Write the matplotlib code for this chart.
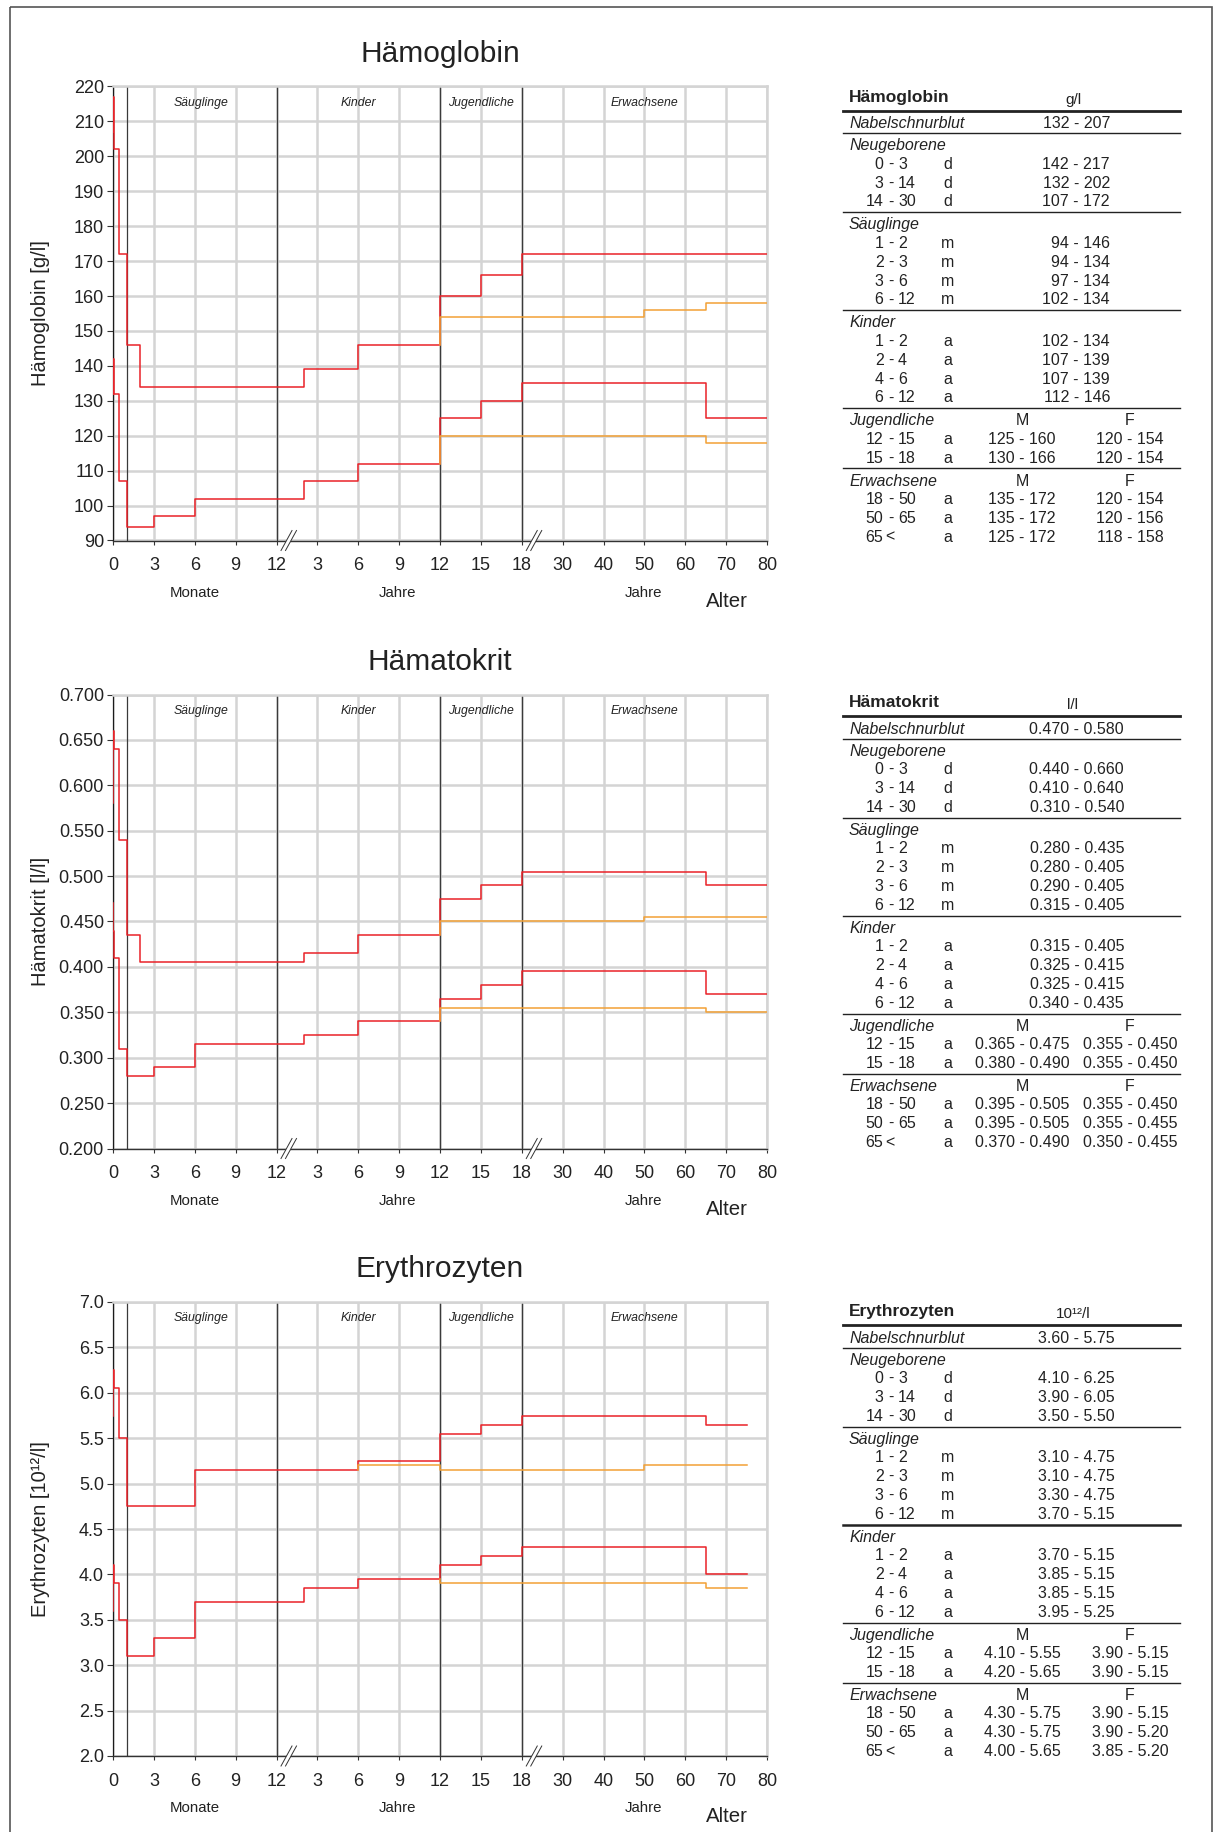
import matplotlib
matplotlib.use("Agg")
import matplotlib.pyplot as plt
from matplotlib.patches import Polygon, Rectangle

plt.rcParams["font.family"] = ["Liberation Sans", "DejaVu Sans"]

# Altersgrenzen der Gruppen
NEO_DAYS = [0, 3, 14, 30]
INF_MONTHS = [1, 2, 3, 6, 12]
KID_YEARS = [1, 2, 4, 6, 12]
TEEN_YEARS = [12, 15, 18]
ADULT_YEARS = [18, 50, 65]

X_TICK_AGES = [0, 3 / 12, 6 / 12, 9 / 12, 1, 3, 6, 9, 12, 15, 18, 30, 40, 50, 60, 70, 80]
X_TICK_LABELS = ["0", "3", "6", "9", "12", "3", "6", "9", "12", "15", "18",
                 "30", "40", "50", "60", "70", "80"]
GROUP_NAMES = ["Säuglinge", "Kinder", "Jugendliche", "Erwachsene"]
GROUP_BOUNDS = [1 / 12, 1, 12, 18]

# Hämoglobin [g/l], (untere, obere Grenze)
HB_CORD = (132, 207)
HB_NEO = [(142, 217), (132, 202), (107, 172)]
HB_INF = [(94, 146), (94, 134), (97, 134), (102, 134)]
HB_KID = [(102, 134), (107, 139), (107, 139), (112, 146)]
HB_TEEN_M = [(125, 160), (130, 166)]
HB_TEEN_F = [(120, 154), (120, 154)]
HB_ADULT_M = [(135, 172), (135, 172), (125, 172)]
HB_ADULT_F = [(120, 154), (120, 156), (118, 158)]

# Hämatokrit [l/l]
HK_CORD = (0.470, 0.580)
HK_NEO = [(0.440, 0.660), (0.410, 0.640), (0.310, 0.540)]
HK_INF = [(0.280, 0.435), (0.280, 0.405), (0.290, 0.405), (0.315, 0.405)]
HK_KID = [(0.315, 0.405), (0.325, 0.415), (0.325, 0.415), (0.340, 0.435)]
HK_TEEN_M = [(0.365, 0.475), (0.380, 0.490)]
HK_TEEN_F = [(0.355, 0.450), (0.355, 0.450)]
HK_ADULT_M = [(0.395, 0.505), (0.395, 0.505), (0.370, 0.490)]
HK_ADULT_F = [(0.355, 0.450), (0.355, 0.455), (0.350, 0.455)]

# Erythrozyten [10^12/l]
ER_CORD = (3.60, 5.75)
ER_NEO = [(4.10, 6.25), (3.90, 6.05), (3.50, 5.50)]
ER_INF = [(3.10, 4.75), (3.10, 4.75), (3.30, 4.75), (3.70, 5.15)]
ER_KID = [(3.70, 5.15), (3.85, 5.15), (3.85, 5.15), (3.95, 5.25)]
ER_TEEN_M = [(4.10, 5.55), (4.20, 5.65)]
ER_TEEN_F = [(3.90, 5.15), (3.90, 5.15)]
ER_ADULT_M = [(4.30, 5.75), (4.30, 5.75), (4.00, 5.65)]
ER_ADULT_F = [(3.90, 5.15), (3.90, 5.20), (3.85, 5.20)]
ER_GIRLS_6_12_HI = 5.20

PANELS = [
    dict(title="Hämoglobin", ylabel="Hämoglobin [g/l]", unit="g/l",
         cord=HB_CORD, neo=HB_NEO, inf=HB_INF, kid=HB_KID,
         teen_m=HB_TEEN_M, teen_f=HB_TEEN_F, adult_m=HB_ADULT_M, adult_f=HB_ADULT_F,
         girl_hi=None, end=80, ylim=(90, 220), ystep=10, yfmt="{:.0f}",
         vfmt="{:.0f} - {:.0f}", top=86.5, tab=110.7, vx=1110),
    dict(title="Hämatokrit", ylabel="Hämatokrit [l/l]", unit="l/l",
         cord=HK_CORD, neo=HK_NEO, inf=HK_INF, kid=HK_KID,
         teen_m=HK_TEEN_M, teen_f=HK_TEEN_F, adult_m=HK_ADULT_M, adult_f=HK_ADULT_F,
         girl_hi=None, end=80, ylim=(0.2, 0.7), ystep=0.05, yfmt="{:.3f}",
         vfmt="{:.3f} - {:.3f}", top=694.5, tab=716, vx=1124),
    dict(title="Erythrozyten", ylabel="Erythrozyten [10¹²/l]", unit="10¹²/l",
         cord=ER_CORD, neo=ER_NEO, inf=ER_INF, kid=ER_KID,
         teen_m=ER_TEEN_M, teen_f=ER_TEEN_F, adult_m=ER_ADULT_M, adult_f=ER_ADULT_F,
         girl_hi=ER_GIRLS_6_12_HI, end=75, ylim=(2.0, 7.0), ystep=0.5, yfmt="{:.1f}",
         vfmt="{:.2f} - {:.2f}", top=1302, tab=1325, vx=1115),
]

W, H = 1220, 1832
AX_L, AX_W, AX_H = 113, 654, 454
RED = "#ea2228"
ORANGE = "#f2a136"
GRID = "#d4d4d4"
INK = "#222222"


def age_pos(a):
    # gebrochene Altersachse: Monate | Jahre 1-18 | Jahre ab 18
    if a <= 1:
        return 4 * a
    if a <= 12:
        return 4 + a / 3
    if a <= 18:
        return 8 + (a - 12) / 3
    if a <= 30:
        return 10 + (a - 18) / 12
    return 11 + (a - 30) / 10


def common_edges(end):
    e = [d / 360 for d in NEO_DAYS]
    e += [m / 12 for m in INF_MONTHS[1:]]
    e += KID_YEARS[1:] + TEEN_YEARS[1:] + ADULT_YEARS[1:] + [end]
    return [age_pos(a) for a in e]


def draw_break(ax, x):
    ux, uy = 1 / 40.875, 1 / AX_H
    sep, run, rise = 4.5, 11.0, 20.0
    a0 = (x + (-sep / 2 - run / 2) * ux, -rise / 2 * uy)
    a1 = (x + (-sep / 2 + run / 2) * ux, rise / 2 * uy)
    b0 = (x + (sep / 2 - run / 2) * ux, -rise / 2 * uy)
    b1 = (x + (sep / 2 + run / 2) * ux, rise / 2 * uy)
    tr = ax.get_xaxis_transform()
    ax.add_patch(Polygon([a0, a1, b1, b0], closed=True, facecolor="white",
                         edgecolor="none", transform=tr, clip_on=False, zorder=5))
    for p, q in ((a0, a1), (b0, b1)):
        ax.plot([p[0], q[0]], [p[1], q[1]], color="#333333", lw=0.7,
                transform=tr, clip_on=False, zorder=6)


fig = plt.figure(figsize=(W / 100, H / 100), dpi=100)

for p in PANELS:
    top = p["top"]
    ax = fig.add_axes([AX_L / W, 1 - (top + AX_H) / H, AX_W / W, AX_H / H])
    ymin, ymax = p["ylim"]
    ax.set_xlim(0, 16)
    ax.set_ylim(ymin, ymax)

    xt = [age_pos(a) for a in X_TICK_AGES]
    ax.set_xticks(xt)
    ax.set_xticklabels(X_TICK_LABELS)
    n = int(round((ymax - ymin) / p["ystep"]))
    yt = [ymin + i * p["ystep"] for i in range(n + 1)]
    ax.set_yticks(yt)
    ax.set_yticklabels([p["yfmt"].format(v) for v in yt])

    ax.grid(True, color=GRID, lw=1.8)
    ax.set_axisbelow(True)
    for s in ("top", "right"):
        ax.spines[s].set_color(GRID)
        ax.spines[s].set_linewidth(1.8)
    ax.spines["left"].set_color("#1a1a1a")
    ax.spines["left"].set_linewidth(0.9)
    ax.spines["bottom"].set_color("#333333")
    ax.spines["bottom"].set_linewidth(1.0)
    ax.tick_params(axis="x", direction="out", length=3, width=0.8, color="#333333",
                   labelsize=13, labelcolor=INK, pad=9)
    ax.tick_params(axis="y", direction="out", length=4, width=0.8, color="#333333",
                   labelsize=13, labelcolor=INK, pad=2.5)

    for a in GROUP_BOUNDS:
        ax.axvline(age_pos(a), color="#3a3a3a", lw=0.9, zorder=1.5)

    centers = [0.5 * (age_pos(GROUP_BOUNDS[0]) + age_pos(GROUP_BOUNDS[1])),
               0.5 * (age_pos(GROUP_BOUNDS[1]) + age_pos(GROUP_BOUNDS[2])),
               0.5 * (age_pos(GROUP_BOUNDS[2]) + age_pos(GROUP_BOUNDS[3])),
               0.5 * (age_pos(GROUP_BOUNDS[3]) + 16)]
    for name, cx in zip(GROUP_NAMES, centers):
        ax.text(cx, 0.964, name, transform=ax.get_xaxis_transform(), ha="center",
                va="center", fontsize=8.8, style="italic", color=INK)

    # gemeinsame bzw. männliche Grenzen (rot)
    edges = [0.0] + common_edges(p["end"])
    unisex = p["neo"] + p["inf"] + p["kid"]
    for k in (0, 1):
        vals = [r[k] for r in unisex + p["teen_m"] + p["adult_m"]]
        ys = [p["cord"][k]] + vals + [vals[-1]]
        ax.step(edges, ys, where="post", color=RED, lw=1.1, zorder=3)

    # weibliche Grenzen (orange)
    for k in (0, 1):
        fvals = [r[k] for r in p["teen_f"] + p["adult_f"]]
        ages = TEEN_YEARS + ADULT_YEARS[1:] + [p["end"]]
        if k == 1 and p["girl_hi"] is not None:
            ages = [KID_YEARS[-2]] * 2 + ages
            ys = [p["kid"][-2][k], p["girl_hi"]] + fvals + [fvals[-1]]
        else:
            ages = [TEEN_YEARS[0]] + ages
            ys = [p["kid"][-1][k]] + fvals + [fvals[-1]]
        ax.step([age_pos(a) for a in ages], ys, where="post", color=ORANGE,
                lw=1.1, zorder=4)

    # Achsenbrüche kurz hinter "12" Monate und "18" Jahre
    draw_break(ax, age_pos(1) + 0.3)
    draw_break(ax, age_pos(18) + 0.3)

# Beschriftungen und Tabellen in Pixelkoordinaten
ov = fig.add_axes([0, 0, 1, 1])
ov.set_xlim(0, W)
ov.set_ylim(H, 0)
ov.axis("off")
ov.patch.set_visible(False)

ov.add_patch(Rectangle((10, 7), 1202, 1840, fill=False, edgecolor="#555555", lw=1.2))


def px(pos):
    return AX_L + pos * AX_W / 16


def row_text(x, y, s, **kw):
    kw.setdefault("fontsize", 11.5)
    kw.setdefault("color", INK)
    ov.text(x, y + 5.6, s, va="baseline", **kw)


def age_cell(y, lo, hi):
    row_text(883.5, y, str(lo), ha="right")
    if hi is None:
        row_text(885, y, "<", ha="left")
    else:
        row_text(890.7, y, "-", ha="center")
        row_text(898, y, str(hi), ha="left")


for p in PANELS:
    top = p["top"]
    bot = top + AX_H
    mid_x = AX_L + AX_W / 2
    ov.text(mid_x, top - 25, p["title"], ha="center", va="baseline", fontsize=21.5, color=INK)
    ov.text(41, top + AX_H / 2, p["ylabel"], ha="center", va="center", rotation=90,
            fontsize=14.5, color=INK)
    ov.text(px(2), bot + 56.5, "Monate", ha="center", va="baseline", fontsize=10.8, color=INK)
    ov.text(px(6.97), bot + 56.5, "Jahre", ha="center", va="baseline", fontsize=10.8, color=INK)
    ov.text(px(12.97), bot + 56.5, "Jahre", ha="center", va="baseline", fontsize=10.8, color=INK)
    ov.text(px(15.02), bot + 66.5, "Alter", ha="center", va="baseline", fontsize=14.7, color=INK)

    # Tabelle
    L = p["tab"]
    x0, x1 = 843, 1180
    ov.text(849, L - 9, p["title"], ha="left", va="baseline", fontsize=12.5,
            fontweight="bold", color=INK)
    ov.text(1073, L - 7, p["unit"], ha="center", va="baseline", fontsize=11, color=INK)
    ov.plot([x0, x1], [L, L], color=INK, lw=2.0)

    fmt = p["vfmt"]
    row_text(849, L + 12, "Nabelschnurblut", style="italic")
    row_text(p["vx"], L + 12, fmt.format(*p["cord"]), ha="right")
    y_line = L + 22.5
    ov.plot([x0, x1], [y_line, y_line], color=INK, lw=1.0)

    groups = [
        ("Neugeborene", "d", NEO_DAYS, p["neo"], None),
        ("Säuglinge", "m", INF_MONTHS, p["inf"], None),
        ("Kinder", "a", KID_YEARS, p["kid"], None),
        ("Jugendliche", "a", TEEN_YEARS, p["teen_m"], p["teen_f"]),
        ("Erwachsene", "a", ADULT_YEARS + [None], p["adult_m"], p["adult_f"]),
    ]
    for gi, (gname, unit, bounds, mvals, fvals) in enumerate(groups):
        row_text(849, y_line + 11.5, gname, style="italic")
        if fvals is not None:
            row_text(1022, y_line + 11.5, "M", ha="center")
            row_text(1130, y_line + 11.5, "F", ha="center")
        y = y_line + 29.8
        for i, mv in enumerate(mvals):
            age_cell(y, bounds[i], bounds[i + 1])
            row_text(948, y, unit, ha="center")
            if fvals is None:
                row_text(p["vx"], y, fmt.format(*mv), ha="right")
            else:
                row_text(1022, y, fmt.format(*mv), ha="center")
                row_text(1130, y, fmt.format(*fvals[i]), ha="center")
            y += 18.9
        y_line = y - 18.9 + 11.5
        if gi < len(groups) - 1:
            thick = 1.8 if (p["girl_hi"] is not None and gname == "Säuglinge") else 1.0
            ov.plot([x0, x1], [y_line, y_line], color=INK, lw=thick)

fig.savefig("out.png", dpi=100)
